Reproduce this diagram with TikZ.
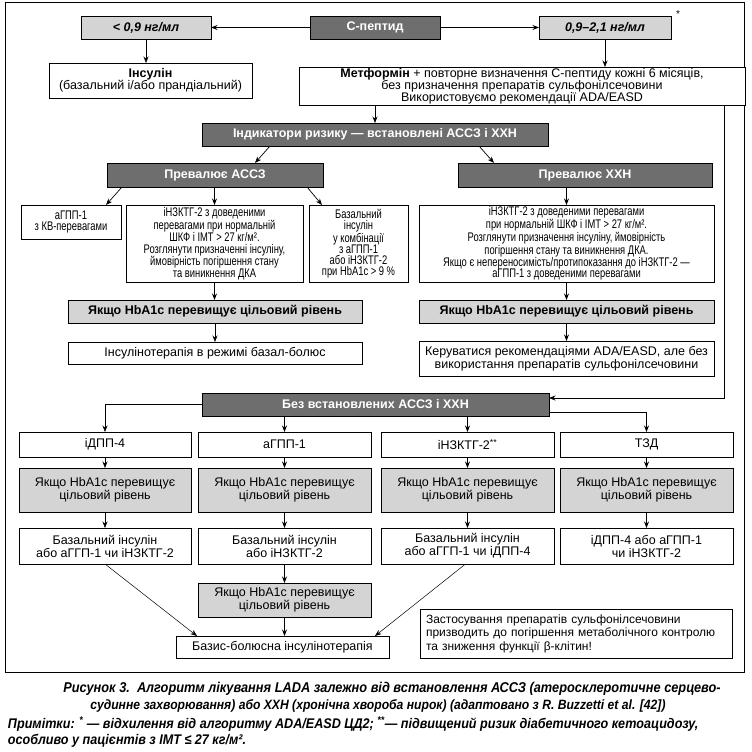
\documentclass[tikz,border=0pt]{standalone}
\usepackage{fontspec}
\setmainfont{Liberation Sans}
\newfontfamily\narrowf{Liberation Sans}[FakeStretch=0.75]
\newfontfamily\capf{Liberation Sans}[FakeStretch=0.9]
\usetikzlibrary{arrows.meta,calc}
\definecolor{dkgray}{RGB}{110,110,110}
\definecolor{ltgray}{RGB}{212,212,212}
\begin{document}
\begin{tikzpicture}[x=1pt,y=-1pt,
  every node/.style={inner sep=0pt, outer sep=0pt},
  bx/.style={draw, line width=0.9pt, fill=white, align=center, font=\fontsize{12.5}{13}\selectfont},
  nbx/.style={bx, font=\narrowf\fontsize{12.5}{11.2}\selectfont},
  dk/.style={bx, fill=dkgray, text=white, font=\fontsize{12.5}{13}\selectfont\bfseries},
  lt/.style={bx, fill=ltgray},
  ltb/.style={lt, font=\fontsize{12.5}{13}\selectfont\bfseries},
  arr/.style={-{Stealth[length=6.5pt,width=5pt]}, line width=0.7pt},
  capt/.style={font=\capf\fontsize{13.5}{15}\selectfont\bfseries\itshape},
  capn/.style={font=\capf\fontsize{14}{15}\selectfont\bfseries\itshape},
]
\useasboundingbox (0,0) rectangle (752,752);
\draw[line width=1pt] (5,3) rectangle (744,672);

% top row
\node[lt, minimum width=130, minimum height=23, font=\fontsize{12.5}{13}\selectfont\bfseries\itshape] (lo) at (146,27.5) {< 0,9 нг/мл};
\node[dk, minimum width=130, minimum height=23] (cpep) at (375,27.5) {С-пептид};
\node[lt, minimum width=132, minimum height=23, font=\fontsize{12.5}{13}\selectfont\bfseries\itshape] (hi) at (605,27.5) {0,9–2,1 нг/мл};
\node[font=\fontsize{10}{10}\selectfont] (star) at (678,14) {*};

\node[bx, minimum width=203, minimum height=35, font=\fontsize{12.5}{12}\selectfont] (ins) at (150.5,80.5) {\textbf{Інсулін}\\(базальний і/або прандіальний)};
\node[bx, minimum width=446, minimum height=38, font=\fontsize{12.5}{11.8}\selectfont] (met) at (522,86) {\textbf{Метформін} + повторне визначення С-пептиду кожні 6 місяців,\\без призначення препаратів сульфонілсечовини\\Використовуємо рекомендації ADA/EASD};

\node[dk, minimum width=346, minimum height=23] (ind) at (375,134.5) {Індикатори ризику — встановлені АССЗ і ХХН};
\node[dk, minimum width=216, minimum height=24] (pa) at (215,175) {Превалює АССЗ};
\node[dk, minimum width=254, minimum height=24] (px) at (585,175) {Превалює ХХН};

\node[nbx, minimum width=100, minimum height=34] (b1) at (71,222) {аГПП-1\\з КВ-перевагами};
\node[nbx, minimum width=177, minimum height=77] (b2) at (214.5,243.5) {іНЗКТГ-2 з доведеними\\перевагами при нормальній\\ШКФ і ІМТ > 27 кг/м².\\Розглянути призначенні інсуліну,\\ймовірність погіршення стану\\та виникнення ДКА};
\node[nbx, minimum width=99, minimum height=77] (b3) at (358.5,243.5) {Базальний\\інсулін\\у комбінації\\з аГПП-1\\або іНЗКТГ-2\\при HbA1c > 9 \%};
\node[nbx, minimum width=295, minimum height=77] (bxx) at (566.5,243.5) {іНЗКТГ-2 з доведеними перевагами\\при нормальній ШКФ і ІМТ > 27 кг/м².\\Розглянути призначення інсуліну, ймовірність\\погіршення стану та виникнення ДКА.\\Якщо є непереносимість/протипоказання до іНЗКТГ-2 —\\аГПП-1 з доведеними перевагами};

\node[ltb, minimum width=294, minimum height=23] (L1) at (215,311.5) {Якщо HbA1c перевищує цільовий рівень};
\node[bx, minimum width=294, minimum height=22] (L2) at (215,353) {Інсулінотерапія в режимі базал-болюс};
\node[ltb, minimum width=295, minimum height=23] (R1) at (566.5,311.5) {Якщо HbA1c перевищує цільовий рівень};
\node[bx, minimum width=295, minimum height=35] (R2) at (566.5,358.5) {Керуватися рекомендаціями ADA/EASD, але без\\використання препаратів сульфонілсечовини};

\node[dk, minimum width=347, minimum height=23] (bez) at (375.5,404.5) {Без встановлених АССЗ і ХХН};

\node[bx, minimum width=172, minimum height=25] (r1a) at (105,444.5) {іДПП-4};
\node[bx, minimum width=173, minimum height=25] (r1b) at (284.5,444.5) {аГПП-1};
\node[bx, minimum width=173, minimum height=25] (r1c) at (467.5,444.5) {іНЗКТГ-2\textsuperscript{**}};
\node[bx, minimum width=173, minimum height=25] (r1d) at (646.5,444.5) {ТЗД};

\node[lt, minimum width=172, minimum height=44] (r2a) at (105,490) {Якщо HbA1c перевищує\\цільовий рівень};
\node[lt, minimum width=173, minimum height=44] (r2b) at (284.5,490) {Якщо HbA1c перевищує\\цільовий рівень};
\node[lt, minimum width=173, minimum height=44] (r2c) at (467.5,490) {Якщо HbA1c перевищує\\цільовий рівень};
\node[lt, minimum width=173, minimum height=44] (r2d) at (646.5,490) {Якщо HbA1c перевищує\\цільовий рівень};

\node[bx, minimum width=172, minimum height=36] (r3a) at (105,546) {Базальний інсулін\\або аГГП-1 чи іНЗКТГ-2};
\node[bx, minimum width=173, minimum height=36] (r3b) at (284.5,546) {Базальний інсулін\\або іНЗКТГ-2};
\node[bx, minimum width=173, minimum height=36] (r3c) at (467.5,546) {Базальний інсулін\\або аГГП-1 чи іДПП-4};
\node[bx, minimum width=173, minimum height=36] (r3d) at (646.5,546) {іДПП-4 або аГПП-1\\чи іНЗКТГ-2};

\node[lt, minimum width=173, minimum height=34] (r4b) at (284.5,600) {Якщо HbA1c перевищує\\цільовий рівень};
\node[bx, minimum width=213, minimum height=22] (bb) at (282.5,647) {Базис-болюсна інсулінотерапія};
\node[bx, minimum width=312, minimum height=49, inner xsep=6pt, text width=300pt, align=left, font=\fontsize{12}{13.5}\selectfont] (zas) at (576,633.5) {Застосування препаратів сульфонілсечовини\\призводить до погіршення метаболічного контролю\\та зниження функції β-клітин!};

% connectors
\draw[arr] (cpep.west) -- (lo.east);
\draw[arr] (cpep.east) -- (hi.west);
\draw[arr] (lo.south) -- (lo.south |- ins.north);
\draw[arr] (hi.south) -- (hi.south |- met.north);
\draw[arr] (met.south -| ind.north) -- (ind.north);
\coordinate (c1) at (724,398);
\draw[arr] (met.south -| c1) -- (c1) -- (c1 -| bez.east);
\draw[arr] ([xshift=-105pt]ind.south) -- ([xshift=40pt]pa.north);
\draw[arr] ([xshift=104pt]ind.south) -- ([xshift=-91pt]px.north);
\draw[arr] ([xshift=-93pt]pa.south) -- ([xshift=35pt]b1.north);
\draw[arr] (pa.south -| b2.north) -- (b2.north);
\draw[arr] ([xshift=92pt]pa.south) -- ([xshift=-36.5pt]b3.north);
\draw[arr] (bxx.north |- px.south) -- (bxx.north);
\draw[arr] (b2.south) -- (b2.south |- L1.north);
\draw[arr] (L1.south) -- (L2.north);
\draw[arr] (bxx.south) -- (R1.north);
\draw[arr] (R1.south) -- (R2.north);
\draw[arr] (bez.west) -| (r1a.north);
\draw[arr] (bez.south -| r1b.north) -- (r1b.north);
\draw[arr] (bez.south -| r1c.north) -- (r1c.north);
\draw[arr] ([yshift=-7.5pt]bez.east) -| (r1d.north);
\foreach \c in {a,b,c,d}{
  \draw[arr] (r1\c.south) -- (r2\c.north);
  \draw[arr] (r2\c.south) -- (r3\c.north);
}
\draw[arr] (r3b.south) -- (r4b.north);
\draw[arr] (r4b.south) -- (r4b.south |- bb.north);
\draw[arr, line width=0.5pt] (r3a.south) -- ([xshift=-85.5pt]bb.north);
\draw[arr, line width=0.5pt] ([xshift=-2pt]r3c.south) -- ([xshift=92.5pt]bb.north);

% caption
\node[font=\capf\fontsize{14.2}{15}\selectfont\bfseries\itshape] (cap1) at (392,689) {Рисунок 3.\ \ Алгоритм лікування LADA залежно від встановлення АССЗ (атеросклеротичне серцево-};
\node[capt] (cap2) at (378,706) {судинне захворювання) або ХХН (хронічна хвороба нирок) (адаптовано з R. Buzzetti et al. [42])};
\node[capn, anchor=west] (cap3) at (8,724) {Примітки: \textsuperscript{*} — відхилення від алгоритму ADA/EASD ЦД2; \textsuperscript{**}— підвищений ризик діабетичного кетоацидозу,};
\node[capn, anchor=west] (cap4) at (8,741) {особливо у пацієнтів з ІМТ ≤ 27 кг/м².};
\end{tikzpicture}
\end{document}
